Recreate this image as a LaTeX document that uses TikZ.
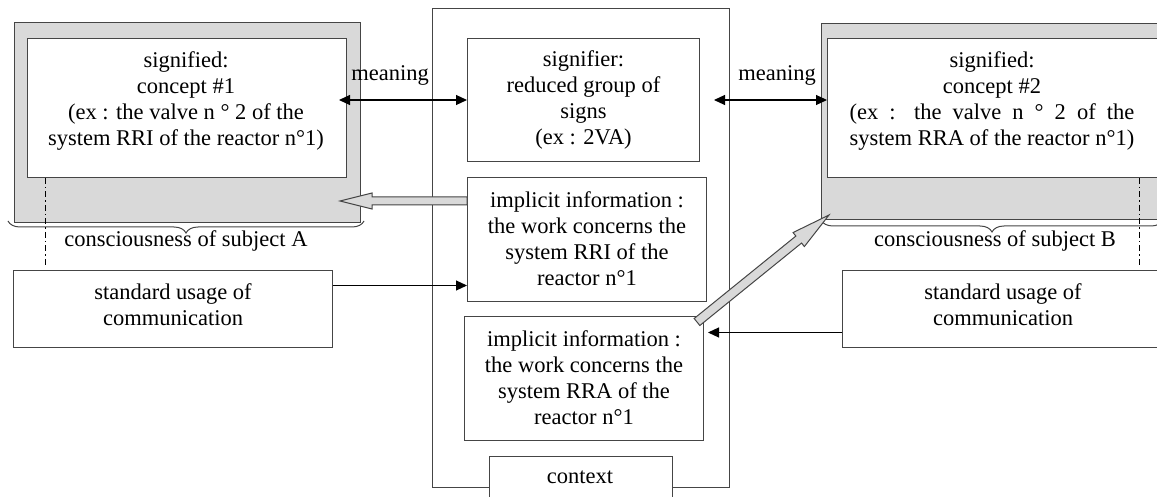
\documentclass[tikz,border=0pt]{standalone}
\usepackage{fontspec}
\setmainfont{Liberation Serif}
\usepackage{calc}
\usetikzlibrary{arrows.meta,calc,decorations.pathreplacing}
\definecolor{edge}{HTML}{454545}
\definecolor{graybg}{HTML}{D9D9D9}
\newcommand{\blockarrow}[5]{% start, target, shaft half, head half, head length
  \filldraw[fill=graybg,draw=edge,line width=1pt,line join=miter]
    ($(#1)!#3!90:(#2)$) --
    ($($(#2)!#5!(#1)$)!#3!-90:(#1)$) --
    ($($(#2)!#5!(#1)$)!#4!-90:(#1)$) --
    (#2) --
    ($($(#2)!#5!(#1)$)!#4!90:(#1)$) --
    ($($(#2)!#5!(#1)$)!#3!90:(#1)$) --
    ($(#1)!#3!-90:(#2)$) -- cycle;}
\begin{document}
\begin{tikzpicture}[x=1pt,y=-1pt,
  every node/.style={font=\fontsize{22.5}{26}\selectfont},
  box/.style={draw=edge,line width=1pt,fill=white,inner sep=0pt},
  outer/.style={draw=edge,line width=1pt,fill=graybg,inner sep=0pt},
  txt/.style={align=center,inner sep=0pt},
  conn/.style={line width=1.1pt,draw=black,-{Triangle[length=11pt,width=10pt]}},
  dconn/.style={line width=1.1pt,draw=black,{Triangle[length=11pt,width=10pt]}-{Triangle[length=11pt,width=10pt]}},
  dashdot/.style={draw=black,line width=1pt,dash pattern=on 6pt off 3pt on 1.5pt off 3pt},
  brc/.style={draw=edge,line width=1pt,decorate,decoration={brace,mirror,amplitude=12pt}}
]
\useasboundingbox (0,0) rectangle (1157,497);
% center frame
\node[box,fill=none,minimum width=297pt,minimum height=479pt,anchor=north west] (frame) at (432,8) {};
% left consciousness
\node[outer,minimum width=346pt,minimum height=200pt,anchor=north west] (lout) at (14,22) {};
\node[box,minimum width=319pt,minimum height=139pt,anchor=north west] (lin) at (27,38) {};
\node[txt] (ltxt) at (186,101) {signified:\\concept \#1\\(ex : the valve n ° 2 of the\\system RRI of the reactor n°1)};
% right consciousness
\node[outer,minimum width=360pt,minimum height=196pt,anchor=north west] (rout) at (821,23) {};
\node[box,minimum width=350pt,minimum height=139pt,anchor=north west] (rin) at (827,38) {};
\node[txt] (rtxt) at (992,101) {signified:\\concept \#2\\\makebox[\widthof{system RRA of the reactor n°1)}][s]{(ex : the valve n ° 2 of the}\\system RRA of the reactor n°1)};
% braces
\coordinate (lb1) at (8,221);
\coordinate (lb2) at (364,221);
\draw[brc] (lb1) -- (lb2);
\node[txt] (lcons) at (186,241) {consciousness of subject A};
\coordinate (rb1) at (821,220);
\coordinate (rb2) at (1163,220);
\draw[brc] (rb1) -- (rb2);
\node[txt] (rcons) at (995,241) {consciousness of subject B};
% dash-dot lines
\coordinate (ld) at (45,267);
\draw[dashdot] (lin.south west -| ld) -- (ld);
\coordinate (rd) at (1139,266);
\draw[dashdot] (rin.south west -| rd) -- (rd);
% center boxes
\node[box,minimum width=232pt,minimum height=123pt,anchor=north west] (sig) at (467,38) {};
\node[txt] at (sig.center) {signifier:\\reduced group of\\signs\\(ex : 2VA)};
\node[box,minimum width=239pt,minimum height=124pt,anchor=north west] (rri) at (467,177) {};
\node[txt] at ([yshift=1pt]rri.center) {implicit information :\\the work concerns the\\system RRI of the\\reactor n°1};
\node[box,minimum width=239pt,minimum height=124pt,anchor=north west] (rra) at (464,316) {};
\node[txt] at ([yshift=1pt]rra.center) {implicit information :\\the work concerns the\\system RRA of the\\reactor n°1};
\node[box,minimum width=183pt,minimum height=60pt,anchor=north west] (ctx) at (489,456) {};
\node[txt] at (580,477) {context};
% standard usage
\node[box,minimum width=319pt,minimum height=77pt,anchor=north west] (lstd) at (13,270) {};
\node[txt] at (173,305) {standard usage of\\communication};
\node[box,minimum width=340pt,minimum height=77pt,anchor=north west] (rstd) at (842,270) {};
\node[txt] at (1003,305) {standard usage of\\communication};
% meaning arrows
\draw[dconn] ([xshift=-8pt]lin.east |- sig.west) -- (sig.west);
\node[txt] (m1) at (390,75) {meaning};
\draw[dconn] ([xshift=14pt]sig.east) -- (rin.west |- sig.east);
\node[txt] (m2) at (777,75) {meaning};
% standard usage arrows
\draw[conn] ([yshift=23.5pt]lstd.east) -- ([yshift=23.5pt]lstd.east -| rri.west);
\draw[conn] ([yshift=-23.5pt]rstd.west) -- ([yshift=-23.5pt,xshift=4pt]rstd.west -| rra.east);
% gray block arrows
\coordinate (ga1) at (rri.west |- 0,201);
\coordinate (ga2) at (340,201);
\blockarrow{ga1}{ga2}{4pt}{8pt}{32pt}
\coordinate (gb1) at (697,322);
\coordinate (gb2) at (829,215);
\blockarrow{gb1}{gb2}{4.5pt}{9pt}{39pt}
\end{tikzpicture}
\end{document}
